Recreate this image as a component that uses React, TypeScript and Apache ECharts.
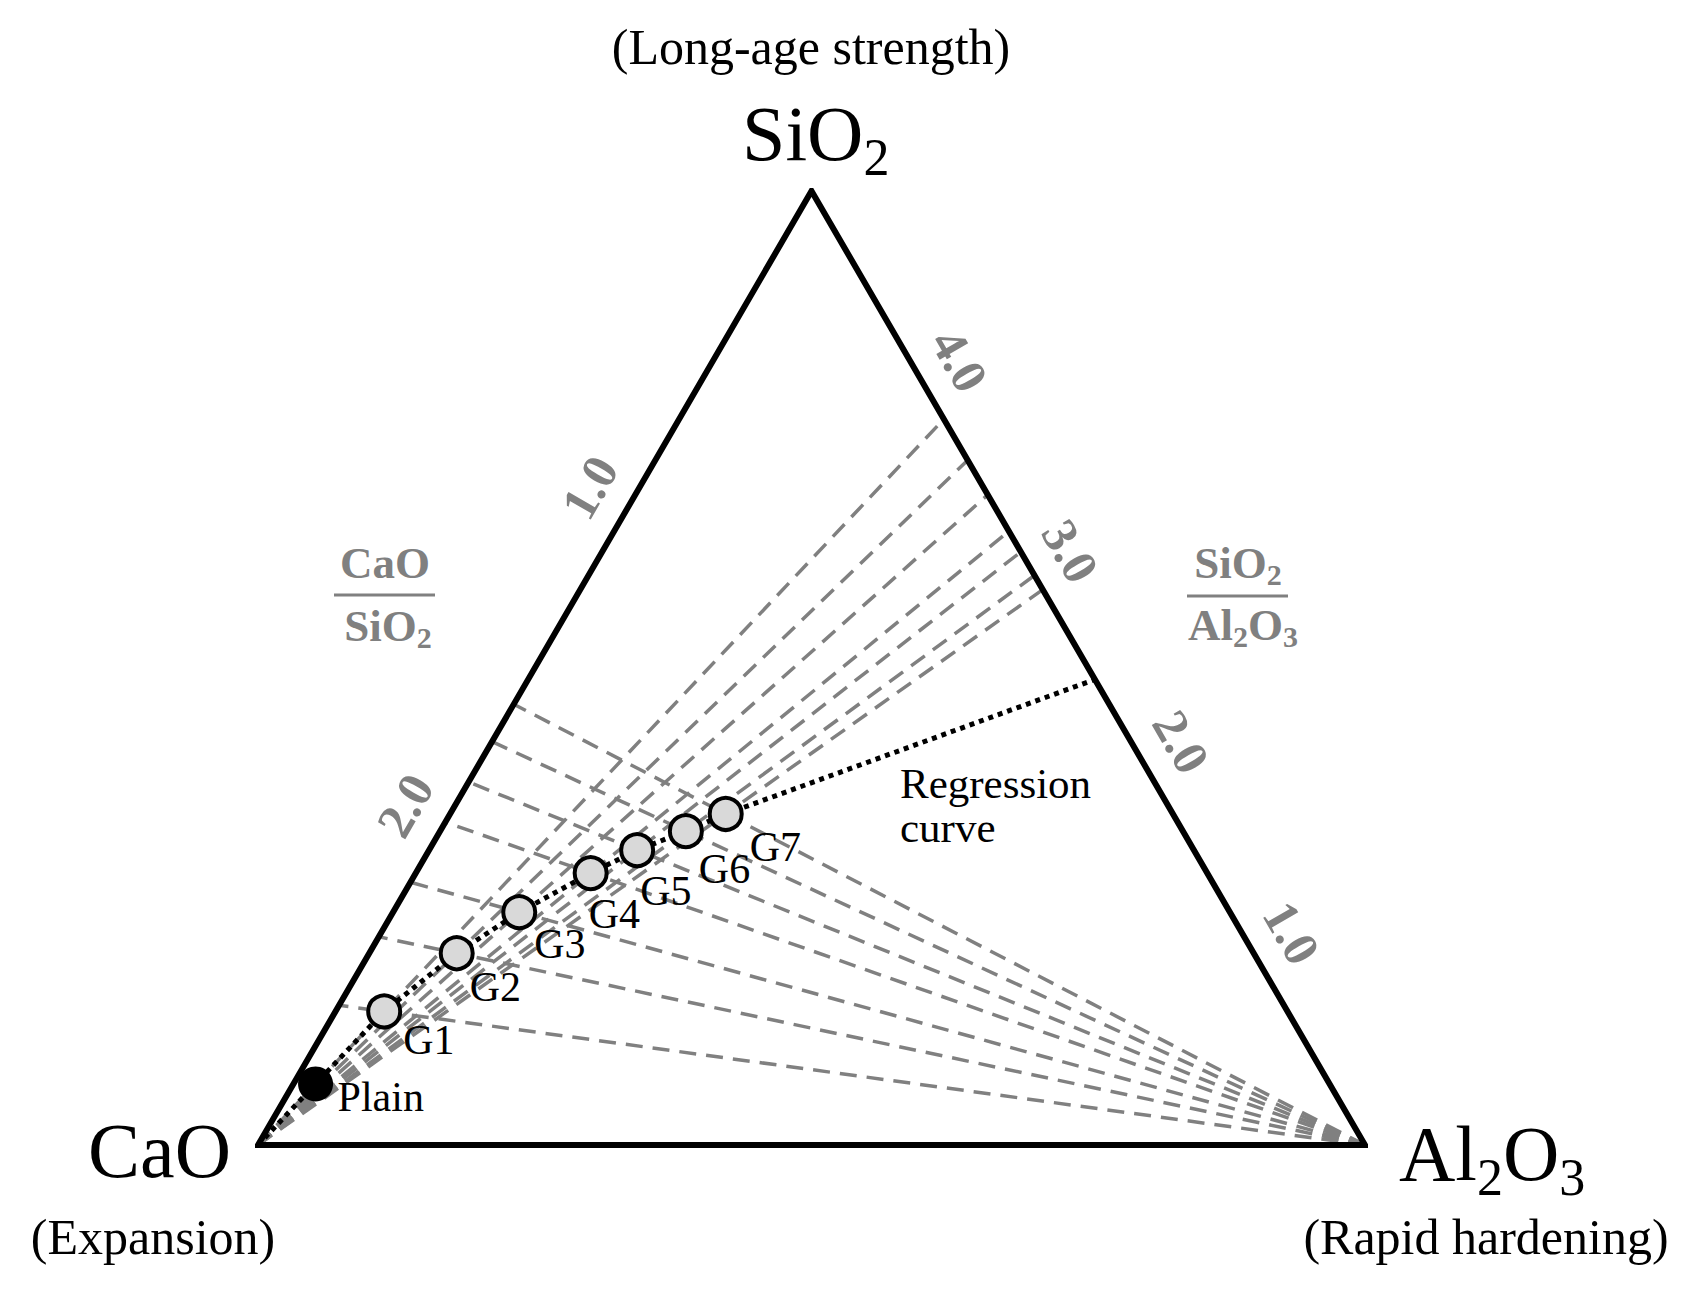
import React, { useEffect, useRef } from "react";
import * as echarts from "echarts";

// ---- Data (mass %) ----
const SAMPLE_NAMES = ["Plain", "G1", "G2", "G3", "G4", "G5", "G6", "G7"];
const CAO = [91.6, 81.6, 72.0, 64.2, 55.7, 50.3, 44.9, 40.4];
const SIO2 = [6.4, 14.0, 20.1, 24.4, 28.5, 30.9, 32.9, 34.7];
const AL2O3 = [2.0, 4.4, 7.9, 11.4, 15.8, 18.8, 22.2, 24.9];

// Regression curve end points (CaO, SiO2, Al2O3)
const REG_START = [100, 0, 0];
const REG_END = [0, 48.8, 51.2];

// Ratio scale tick labels
const CAO_SIO2_TICKS = [1.0, 2.0];
const SIO2_AL2O3_TICKS = [1.0, 2.0, 3.0, 4.0];

// label offsets (layout) for sample names, px relative to the marker centre
const LABEL_OFFSETS = [
  [22, 13], [19, 29], [13, 34], [15, 32], [-2, 41], [3, 41], [13, 38], [24, 33],
];

const FONT = '"Liberation Serif", "Times New Roman", serif';
const GRAY = "#808080";
const H = Math.sqrt(3) / 2;
const GRID = { left: 258, top: 191, width: 1107, height: 954 };

function tern(c: number, s: number, a: number): number[] {
  const t = c + s + a;
  return [(a + s / 2) / t, (s / t) * H];
}

let measureCtx: CanvasRenderingContext2D | null = null;
function textWidth(t: string, size: number, weight: string) {
  if (!measureCtx) measureCtx = document.createElement("canvas").getContext("2d");
  measureCtx!.font = `${weight} ${size}px ${FONT}`;
  return measureCtx!.measureText(t).width;
}

const CENTRAL = 0.3375;

function formula(
  parts: [string, boolean][],
  x: number,
  baseline: number,
  align: "left" | "center",
  fs: number,
  subFs: number,
  drop: number,
  fill: string,
  weight: string
) {
  const widths = parts.map(([t, sub]) => textWidth(t, sub ? subFs : fs, weight));
  const total = widths.reduce((p, q) => p + q, 0);
  let cx = align === "center" ? x - total / 2 : x;
  return parts.map(([t, sub], i) => {
    const size = sub ? subFs : fs;
    const el = {
      type: "text",
      x: cx,
      y: baseline + (sub ? drop : 0) - CENTRAL * size,
      silent: true,
      style: {
        text: t,
        fontSize: size,
        fontFamily: FONT,
        fontWeight: weight,
        fill,
        align: "left",
        verticalAlign: "middle",
      },
    };
    cx += widths[i];
    return el;
  });
}

function plainText(t: string, x: number, baseline: number, align: string, fs: number, fill = "#000", weight = "normal") {
  return {
    type: "text",
    x,
    y: baseline - CENTRAL * fs,
    silent: true,
    style: { text: t, fontSize: fs, fontFamily: FONT, fontWeight: weight, fill, align, verticalAlign: "middle" },
  };
}

export default function App() {
  const ref = useRef<HTMLDivElement>(null);

  useEffect(() => {
    document.body.style.margin = "0";
    if (!ref.current) return;
    const chart = echarts.init(ref.current, undefined, { renderer: "svg" });

    const vCaO = tern(1, 0, 0);
    const vSi = tern(0, 1, 0);
    const vAl = tern(0, 0, 1);

    // ratio lines through each blended sample (G1..G7)
    const ratioLines: any[] = [];
    for (let i = 1; i < SAMPLE_NAMES.length; i++) {
      const c = CAO[i], s = SIO2[i], a = AL2O3[i];
      ratioLines.push({ coords: [vAl, tern(c, s, 0)] });
      ratioLines.push({ coords: [vCaO, tern(0, s, a)] });
    }

    const samplePts = SAMPLE_NAMES.map((n, i) => tern(CAO[i], SIO2[i], AL2O3[i]));
    const regression = [
      tern(REG_START[0], REG_START[1], REG_START[2]),
      ...samplePts,
      tern(REG_END[0], REG_END[1], REG_END[2]),
    ];

    const OFF = 0.039;
    const leftTicks = CAO_SIO2_TICKS.map((v) => {
      const t = 1 - v / 3; // SiO2 fraction along CaO–SiO2 side
      const p = tern(1 - t, t, 0);
      return { name: v.toFixed(1), value: [p[0] - OFF * H, p[1] + OFF * 0.5] };
    });
    const rightTicks = SIO2_AL2O3_TICKS.map((v) => {
      const u = v / 5; // SiO2 fraction along SiO2–Al2O3 side
      const p = tern(0, u, 1 - u);
      return { name: v.toFixed(1), value: [p[0] + OFF * H, p[1] + OFF * 0.5] };
    });

    const tickLabel = (rot: number) => ({
      show: true,
      position: "inside",
      formatter: "{b}",
      rotate: rot,
      color: GRAY,
      opacity: 1,
      fontSize: 50,
      fontWeight: "bold",
      fontFamily: FONT,
      align: "center",
      verticalAlign: "middle",
      textBorderWidth: 0,
    });

    const graphic: any[] = [
      plainText("(Long-age strength)", 811, 64, "center", 50),
      ...formula([["SiO", false], ["2", true]], 742, 160, "left", 78, 52, 15, "#000", "normal"),
      ...formula([["CaO", false]], 88, 1177, "left", 78, 52, 15, "#000", "normal"),
      plainText("(Expansion)", 153, 1254, "center", 50),
      ...formula([["Al", false], ["2", true], ["O", false], ["3", true]], 1399, 1180, "left", 78, 52, 15, "#000", "normal"),
      plainText("(Rapid hardening)", 1486, 1254, "center", 50),
      plainText("Regression", 900, 798, "left", 43),
      plainText("curve", 900, 842, "left", 43),
      // CaO / SiO2 fraction
      ...formula([["CaO", false]], 385, 578, "center", 45, 30, 7, GRAY, "bold"),
      { type: "line", silent: true, shape: { x1: 334, y1: 595, x2: 435, y2: 595 }, style: { stroke: GRAY, lineWidth: 3 } },
      ...formula([["SiO", false], ["2", true]], 388, 641, "center", 45, 30, 7, GRAY, "bold"),
      // SiO2 / Al2O3 fraction
      ...formula([["SiO", false], ["2", true]], 1238, 578, "center", 45, 30, 7, GRAY, "bold"),
      { type: "line", silent: true, shape: { x1: 1187, y1: 596, x2: 1288, y2: 596 }, style: { stroke: GRAY, lineWidth: 3 } },
      ...formula([["Al", false], ["2", true], ["O", false], ["3", true]], 1243, 640, "center", 45, 30, 7, GRAY, "bold"),
    ];

    chart.setOption({
      animation: false,
      backgroundColor: "#fff",
      grid: { ...GRID, containLabel: false },
      xAxis: { type: "value", min: 0, max: 1, show: false },
      yAxis: { type: "value", min: 0, max: H, show: false },
      graphic,
      series: [
        {
          type: "lines",
          coordinateSystem: "cartesian2d",
          z: 1,
          silent: true,
          lineStyle: { color: GRAY, width: 3.5, type: [17, 10], opacity: 1, curveness: 0 },
          data: ratioLines,
        },
        {
          type: "line",
          z: 2,
          silent: true,
          symbol: "none",
          lineStyle: { color: "#000", width: 6, join: "miter", miterLimit: 10 },
          data: [vCaO, vAl, vSi, vCaO, vAl],
        },
        {
          type: "line",
          z: 3,
          silent: true,
          symbol: "none",
          lineStyle: { color: "#000", width: 5, type: [5, 5] },
          data: regression,
        },
        {
          type: "scatter",
          z: 4,
          silent: true,
          symbol: "circle",
          data: SAMPLE_NAMES.map((n, i) => ({
            name: n,
            value: samplePts[i],
            symbolSize: i === 0 ? 35 : 32,
            itemStyle:
              i === 0
                ? { color: "#000", borderColor: "#000", borderWidth: 0, opacity: 1 }
                : { color: "#d9d9d9", borderColor: "#000", borderWidth: 4, opacity: 1 },
            label: { offset: LABEL_OFFSETS[i] },
          })),
          label: {
            show: true,
            position: "inside",
            formatter: "{b}",
            align: "left",
            verticalAlign: "middle",
            color: "#000",
            opacity: 1,
            fontSize: 42,
            fontFamily: FONT,
            textBorderWidth: 0,
          },
        },
        {
          type: "scatter",
          z: 5,
          silent: true,
          symbol: "circle",
          symbolSize: 1,
          itemStyle: { color: "rgba(0,0,0,0)", opacity: 1 },
          data: leftTicks,
          label: tickLabel(60),
        },
        {
          type: "scatter",
          z: 5,
          silent: true,
          symbol: "circle",
          symbolSize: 1,
          itemStyle: { color: "rgba(0,0,0,0)", opacity: 1 },
          data: rightTicks,
          label: tickLabel(-60),
        },
      ],
    });

    return () => chart.dispose();
  }, []);

  return <div ref={ref} style={{ width: 1703, height: 1293, position: "absolute", left: 0, top: 0 }} />;
}
